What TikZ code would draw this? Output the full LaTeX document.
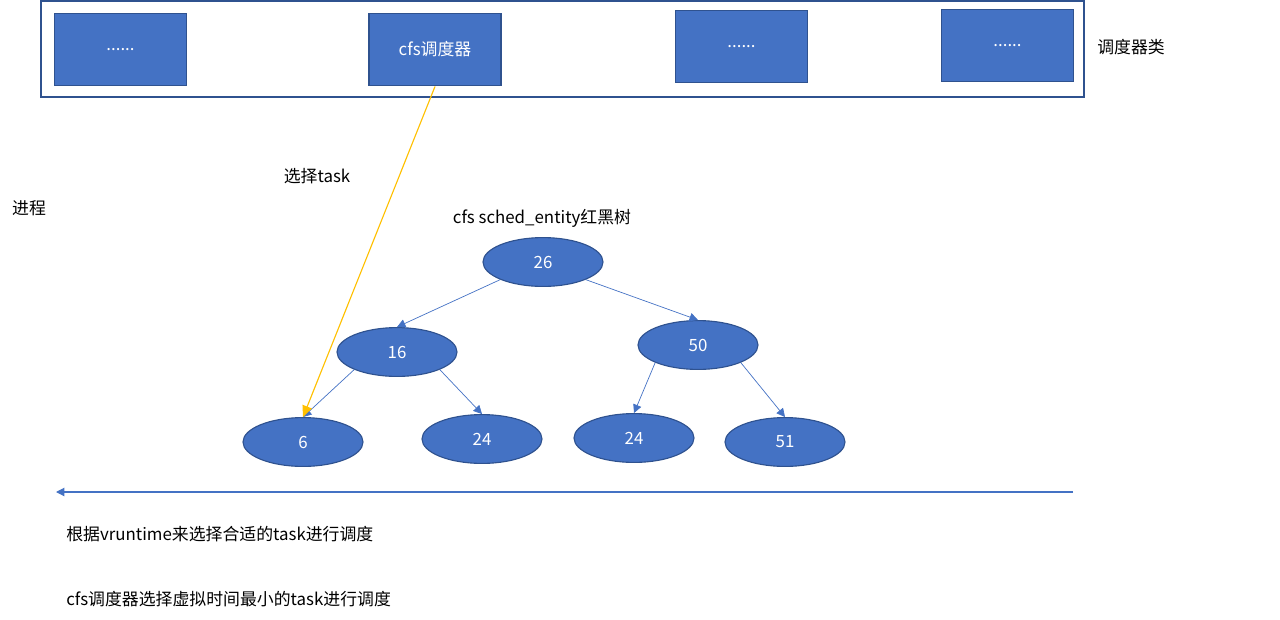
\documentclass[tikz,border=0pt]{standalone}
\usepackage{fontspec}
\setmainfont{Noto Sans CJK SC}
\usetikzlibrary{shapes.geometric,arrows.meta}

\definecolor{fillblue}{HTML}{4472C4}
\definecolor{edgeblue}{HTML}{2F528F}
\definecolor{arrowgold}{HTML}{FFC000}

\tikzset{
  schedbox/.style={draw=edgeblue, fill=fillblue, line width=0.8pt, minimum width=3.3cm, minimum height=1.82cm, text=white, inner sep=0pt},
  rbnode/.style={ellipse, draw=edgeblue, fill=fillblue, line width=0.8pt, minimum width=3cm, minimum height=1.22cm, text=white, inner sep=0pt},
  rbedge/.style={draw=fillblue, line width=0.5pt, -{Triangle[length=6pt,width=6pt]}},
  label/.style={inner sep=0pt, anchor=center}
}

\begin{document}
\begin{tikzpicture}[x=0.025cm, y=-0.025cm, font=\fontsize{12}{14}\selectfont]
    \useasboundingbox (0,0) rectangle (1280,619);

    % scheduler classes
    \draw [edgeblue, line width=1pt] (41,1) rectangle (1084,97);
    \node [schedbox] (s1) at (120.5,49.5) {......};
    \node [schedbox] (cfs) at (435,49.5) {cfs调度器};
    \node [schedbox] (s3) at (741.5,46.5) {......};
    \node [schedbox] (s4) at (1007.5,45.5) {......};
    \node [label] (classes) at (1131,47) {调度器类};

    \node [label] (pick) at (317,176) {选择task};
    \node [label] (proc) at (29,208) {进程};
    \node [label] (title) at (542,218) {cfs sched\_entity红黑树};

    % red-black tree
    \node [rbnode] (n26) at (543,262) {26};
    \node [rbnode] (n16) at (397,352) {16};
    \node [rbnode] (n50) at (698,345) {50};
    \node [rbnode] (n6) at (303,442) {6};
    \node [rbnode] (n24a) at (482,439) {24};
    \node [rbnode] (n24b) at (634,438) {24};
    \node [rbnode] (n51) at (785,442) {51};

    \draw [rbedge] (n26.south west) -- (n16.north);
    \draw [rbedge] (n26.south east) -- (n50.north);
    \draw [rbedge] (n16.south west) -- (n6.north);
    \draw [rbedge] (n16.south east) -- (n24a.north);
    \draw [rbedge] (n50.south west) -- (n24b.north);
    \draw [rbedge] (n50.south east) -- (n51.north);

    \draw [arrowgold, line width=0.8pt, -{Triangle[length=8pt,width=7pt]}] (cfs.south) -- (n6.north);

    % time axis
    \coordinate (tright) at (1073,492);
    \coordinate (tleft) at (56,492);
    \draw [rbedge, line width=0.8pt] (tright) -- (tleft);

    \node [label, anchor=west] (note1) at (66,534) {根据vruntime来选择合适的task进行调度};
    \node [label, anchor=west] (note2) at (66,599) {cfs调度器选择虚拟时间最小的task进行调度};
\end{tikzpicture}
\end{document}
